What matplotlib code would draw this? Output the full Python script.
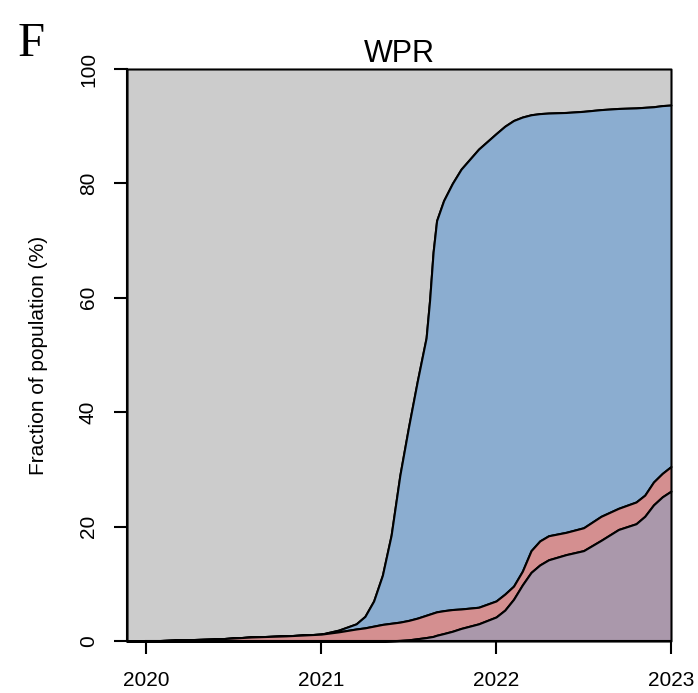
import matplotlib
matplotlib.use("Agg")
import matplotlib.pyplot as plt
import numpy as np

# ---- data ----
years = [2019.89, 2020.0, 2020.2, 2020.4, 2020.6, 2020.8, 2021.0, 2021.1, 2021.2, 2021.25,
         2021.3, 2021.35, 2021.4, 2021.45, 2021.5, 2021.55, 2021.6, 2021.62, 2021.64, 2021.66,
         2021.7, 2021.75, 2021.8, 2021.9, 2022.0, 2022.05, 2022.1, 2022.15, 2022.2, 2022.25,
         2022.3, 2022.4, 2022.5, 2022.6, 2022.7, 2022.8, 2022.85, 2022.9, 2022.95, 2023.0]

# cumulative upper boundaries of each stacked layer (% of population)
blue_top = [0, 0, 0.2, 0.35, 0.7, 0.9, 1.2, 1.9, 3.0, 4.3,
            7.0, 11.5, 18.5, 29.0, 37.5, 45.5, 53.0, 59.6, 68.0, 73.5,
            77.0, 80.0, 82.5, 86.0, 88.7, 90.0, 91.0, 91.6, 92.0, 92.2,
            92.3, 92.4, 92.6, 92.9, 93.1, 93.2, 93.3, 93.4, 93.6, 93.7]
red_top = [0, 0, 0.2, 0.35, 0.7, 0.9, 1.2, 1.6, 2.1, 2.3,
           2.6, 2.9, 3.1, 3.3, 3.6, 4.0, 4.5, 4.7, 4.9, 5.1,
           5.3, 5.5, 5.6, 5.9, 7.0, 8.2, 9.6, 12.2, 15.8, 17.5,
           18.4, 19.0, 19.8, 21.8, 23.2, 24.3, 25.5, 27.8, 29.3, 30.5]
purple_top = [0, 0, 0, 0, 0, 0, 0, 0, 0, 0,
              0, 0, 0.05, 0.1, 0.2, 0.4, 0.6, 0.7, 0.8, 1.0,
              1.3, 1.7, 2.2, 3.0, 4.2, 5.4, 7.3, 9.8, 12.0, 13.3,
              14.2, 15.1, 15.8, 17.6, 19.5, 20.5, 21.8, 23.8, 25.2, 26.2]

x_ticks = [2020, 2021, 2022, 2023]
y_ticks = [0, 20, 40, 60, 80, 100]
title = "WPR"
ylabel = "Fraction of population (%)"
panel = "F"

c_purple = "#AA98AB"
c_red = "#D48F90"
c_blue = "#8BADD0"
c_gray = "#CCCCCC"

SANS = ["Liberation Sans", "DejaVu Sans"]
SERIF = ["Liberation Serif", "DejaVu Serif"]

x = np.array(years)
b = np.array(blue_top)
r = np.array(red_top)
p = np.array(purple_top)
top = np.full_like(x, 100.0)
zero = np.zeros_like(x)

fig = plt.figure(figsize=(6.98, 6.93), dpi=100)
ax = fig.add_axes([127/698, 1-641/693, (671-127)/698, (641-69)/693])

lw = 1.5
for lo, hi, col in [(b, top, c_gray), (r, b, c_blue), (p, r, c_red), (zero, p, c_purple)]:
    ax.fill_between(x, lo, hi, facecolor=col, edgecolor="black", linewidth=lw,
                    clip_on=False, zorder=2, joinstyle="round")

ax.set_xlim(years[0], 2023.0)
ax.set_ylim(0, 100)

for s in ["top", "right"]:
    ax.spines[s].set_visible(False)
ax.spines["left"].set_bounds(0, 100)
ax.spines["bottom"].set_bounds(2020, 2023)
for s in ["left", "bottom"]:
    ax.spines[s].set_linewidth(lw)
    ax.spines[s].set_zorder(3)

fs = 15
ax.set_xticks(x_ticks)
ax.set_xticklabels([str(t) for t in x_ticks], fontsize=fs, family=SANS)
ax.set_yticks(y_ticks)
ax.set_yticklabels([str(t) for t in y_ticks], rotation=90, va="center", fontsize=fs, family=SANS)
ax.tick_params(axis="both", direction="out", length=9.4, width=lw)
ax.tick_params(axis="x", pad=12)
ax.tick_params(axis="y", pad=11.5)

ax.set_title(title, fontsize=22, pad=4, family=SANS)
ax.set_ylabel(ylabel, fontsize=15, labelpad=22, family=SANS)
fig.text(31/698, 1-44/693, panel, fontsize=35, family=SERIF, ha="center", va="center")

fig.savefig("out.png", dpi=100)
